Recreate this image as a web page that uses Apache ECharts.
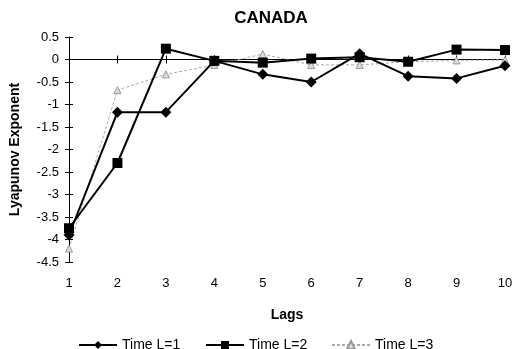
<!DOCTYPE html>
<html><head><meta charset="utf-8">
<script src="https://cdn.jsdelivr.net/npm/echarts@6/dist/echarts.min.js"></script>
<style>html,body{margin:0;padding:0;background:#fff}#c{width:526px;height:349px}</style>
</head><body><div id="c"></div>
<script>
var lags = ['1','2','3','4','5','6','7','8','9','10'];
var timeL1 = [-3.9, -1.17, -1.17, -0.03, -0.33, -0.5, 0.13, -0.37, -0.42, -0.14];
var timeL2 = [-3.75, -2.3, 0.24, -0.03, -0.07, 0.02, 0.05, -0.05, 0.22, 0.21];
var timeL3 = [-4.2, -0.68, -0.33, -0.12, 0.12, -0.12, -0.12, -0.05, -0.02, -0.01];
var seriesNames = ['Time L=1', 'Time L=2', 'Time L=3'];
var chart = echarts.init(document.getElementById('c'));
var font = 'Liberation Sans, Arial, sans-serif';
var legendText = {fontFamily: font, fontSize: 14, color: '#000'};
function lg(i, left) {
  return {left: left, top: 333, itemWidth: 38, itemHeight: 10, itemGap: 4,
    textStyle: legendText, data: [seriesNames[i]]};
}
chart.setOption({
  animation: false,
  title: {text: 'CANADA', left: 266, top: 5, textAlign: 'center',
    textStyle: {fontFamily: font, fontSize: 17, fontWeight: 'bold', color: '#000'}},
  grid: {left: 66, right: 21, top: 37, bottom: 87},
  legend: [lg(0, 73), lg(1, 200), lg(2, 326)],
  xAxis: [{
    type: 'category', data: lags, boundaryGap: false,
    position: 'bottom',
    axisLine: {show: false, onZero: false}, axisTick: {show: false},
    axisLabel: {fontFamily: font, fontSize: 13, color: '#000', margin: 15},
    name: 'Lags', nameLocation: 'middle', nameGap: 46,
    nameTextStyle: {fontFamily: font, fontSize: 14, fontWeight: 'bold', color: '#000'}
  }, {
    type: 'category', data: lags, boundaryGap: false, position: 'bottom',
    axisLine: {show: true, onZero: true, lineStyle: {color: '#000', width: 1}},
    axisTick: {show: true, inside: true, length: 4, lineStyle: {color: '#000'}},
    axisLabel: {show: false}
  }, {
    type: 'category', data: lags, boundaryGap: false, position: 'bottom',
    axisLine: {show: false, onZero: true},
    axisTick: {show: true, inside: false, length: 4, lineStyle: {color: '#000'}},
    axisLabel: {show: false}
  }],
  yAxis: [{
    type: 'value', min: -4.5, max: 0.5, interval: 0.5,
    splitLine: {show: false},
    axisLine: {show: true, lineStyle: {color: '#000'}},
    axisTick: {show: true, length: 4, lineStyle: {color: '#000'}},
    axisLabel: {fontFamily: font, fontSize: 13, color: '#000', margin: 10},
    name: 'Lyapunov Exponent', nameLocation: 'middle', nameGap: 47, nameRotate: 90,
    nameTextStyle: {fontFamily: font, fontSize: 14, fontWeight: 'bold', color: '#000'}
  }, {
    type: 'value', min: -4.5, max: 0.5, interval: 0.5, position: 'left',
    splitLine: {show: false}, axisLine: {show: false},
    axisTick: {show: true, inside: true, length: 4, lineStyle: {color: '#000'}},
    axisLabel: {show: false}
  }],
  series: [{
    name: seriesNames[0], type: 'line', data: timeL1,
    symbol: 'diamond', symbolSize: 11,
    lineStyle: {color: '#000', width: 2}, itemStyle: {color: '#000'}, z: 4
  }, {
    name: seriesNames[1], type: 'line', data: timeL2,
    symbol: 'rect', symbolSize: 10,
    lineStyle: {color: '#000', width: 2}, itemStyle: {color: '#000'}, z: 3
  }, {
    name: seriesNames[2], type: 'line', data: timeL3,
    symbol: 'triangle', symbolSize: 7,
    lineStyle: {color: '#aaa', width: 1, type: [3, 2]},
    itemStyle: {color: '#ddd', borderColor: '#999', borderWidth: 1}, z: 2
  }]
});
</script></body></html>
